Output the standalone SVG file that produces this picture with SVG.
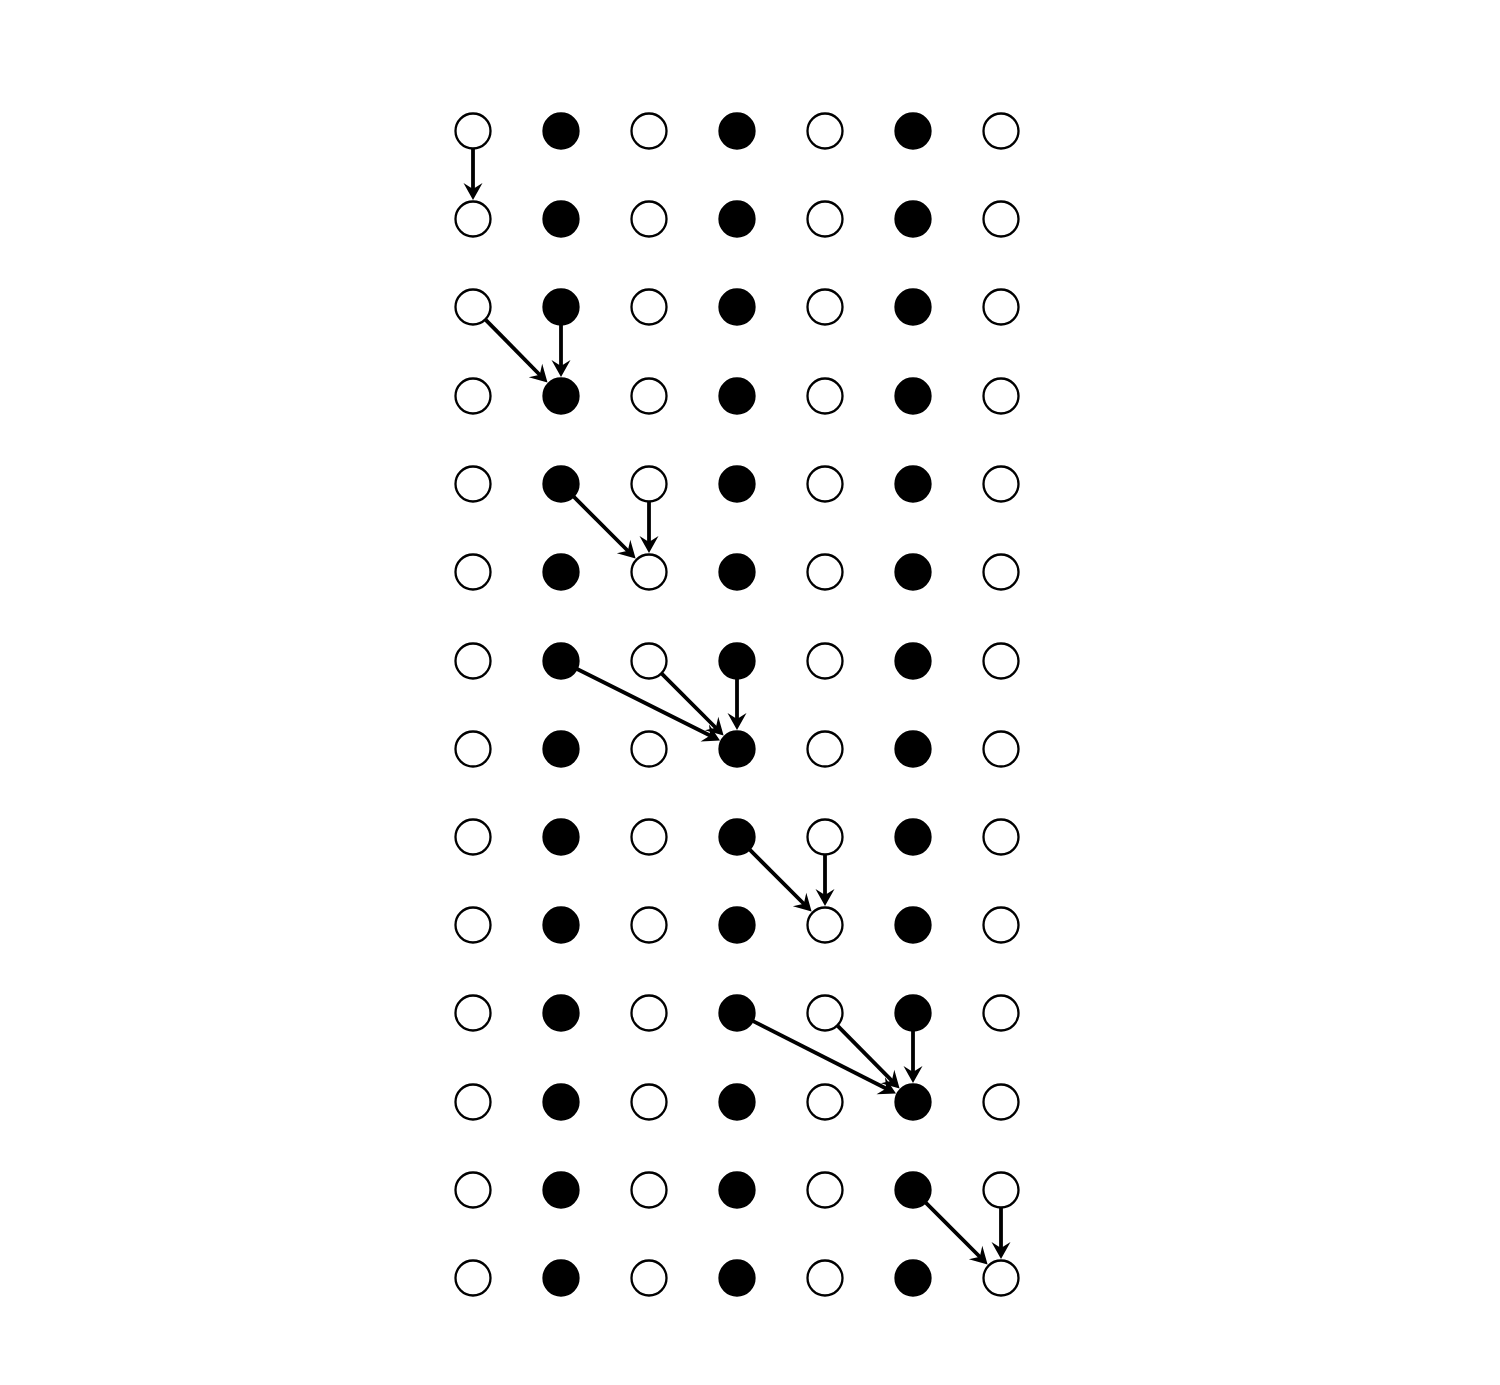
<svg xmlns="http://www.w3.org/2000/svg" width="1500" height="1385" viewBox="0 0 1500 1385">
<defs>
<style>
.o{fill:#fff;stroke:#000;stroke-width:2.3}
.f{fill:#000;stroke:#000;stroke-width:2.3}
#connectors line{stroke:#000;stroke-width:3.8;fill:none}
#connectors polygon{fill:#000;stroke:none}
</style>
</defs>
<rect width="1500" height="1385" fill="#fff"/>
<g id="nodes">
<g id="row0"><circle class="o" cx="473" cy="131" r="17.5"/><circle class="f" cx="561" cy="131" r="17.5"/><circle class="o" cx="649" cy="131" r="17.5"/><circle class="f" cx="737" cy="131" r="17.5"/><circle class="o" cx="825" cy="131" r="17.5"/><circle class="f" cx="913" cy="131" r="17.5"/><circle class="o" cx="1001" cy="131" r="17.5"/></g>
<g id="row1"><circle class="o" cx="473" cy="219" r="17.5"/><circle class="f" cx="561" cy="219" r="17.5"/><circle class="o" cx="649" cy="219" r="17.5"/><circle class="f" cx="737" cy="219" r="17.5"/><circle class="o" cx="825" cy="219" r="17.5"/><circle class="f" cx="913" cy="219" r="17.5"/><circle class="o" cx="1001" cy="219" r="17.5"/></g>
<g id="row2"><circle class="o" cx="473" cy="307" r="17.5"/><circle class="f" cx="561" cy="307" r="17.5"/><circle class="o" cx="649" cy="307" r="17.5"/><circle class="f" cx="737" cy="307" r="17.5"/><circle class="o" cx="825" cy="307" r="17.5"/><circle class="f" cx="913" cy="307" r="17.5"/><circle class="o" cx="1001" cy="307" r="17.5"/></g>
<g id="row3"><circle class="o" cx="473" cy="396" r="17.5"/><circle class="f" cx="561" cy="396" r="17.5"/><circle class="o" cx="649" cy="396" r="17.5"/><circle class="f" cx="737" cy="396" r="17.5"/><circle class="o" cx="825" cy="396" r="17.5"/><circle class="f" cx="913" cy="396" r="17.5"/><circle class="o" cx="1001" cy="396" r="17.5"/></g>
<g id="row4"><circle class="o" cx="473" cy="484" r="17.5"/><circle class="f" cx="561" cy="484" r="17.5"/><circle class="o" cx="649" cy="484" r="17.5"/><circle class="f" cx="737" cy="484" r="17.5"/><circle class="o" cx="825" cy="484" r="17.5"/><circle class="f" cx="913" cy="484" r="17.5"/><circle class="o" cx="1001" cy="484" r="17.5"/></g>
<g id="row5"><circle class="o" cx="473" cy="572" r="17.5"/><circle class="f" cx="561" cy="572" r="17.5"/><circle class="o" cx="649" cy="572" r="17.5"/><circle class="f" cx="737" cy="572" r="17.5"/><circle class="o" cx="825" cy="572" r="17.5"/><circle class="f" cx="913" cy="572" r="17.5"/><circle class="o" cx="1001" cy="572" r="17.5"/></g>
<g id="row6"><circle class="o" cx="473" cy="661" r="17.5"/><circle class="f" cx="561" cy="661" r="17.5"/><circle class="o" cx="649" cy="661" r="17.5"/><circle class="f" cx="737" cy="661" r="17.5"/><circle class="o" cx="825" cy="661" r="17.5"/><circle class="f" cx="913" cy="661" r="17.5"/><circle class="o" cx="1001" cy="661" r="17.5"/></g>
<g id="row7"><circle class="o" cx="473" cy="749" r="17.5"/><circle class="f" cx="561" cy="749" r="17.5"/><circle class="o" cx="649" cy="749" r="17.5"/><circle class="f" cx="737" cy="749" r="17.5"/><circle class="o" cx="825" cy="749" r="17.5"/><circle class="f" cx="913" cy="749" r="17.5"/><circle class="o" cx="1001" cy="749" r="17.5"/></g>
<g id="row8"><circle class="o" cx="473" cy="837" r="17.5"/><circle class="f" cx="561" cy="837" r="17.5"/><circle class="o" cx="649" cy="837" r="17.5"/><circle class="f" cx="737" cy="837" r="17.5"/><circle class="o" cx="825" cy="837" r="17.5"/><circle class="f" cx="913" cy="837" r="17.5"/><circle class="o" cx="1001" cy="837" r="17.5"/></g>
<g id="row9"><circle class="o" cx="473" cy="925" r="17.5"/><circle class="f" cx="561" cy="925" r="17.5"/><circle class="o" cx="649" cy="925" r="17.5"/><circle class="f" cx="737" cy="925" r="17.5"/><circle class="o" cx="825" cy="925" r="17.5"/><circle class="f" cx="913" cy="925" r="17.5"/><circle class="o" cx="1001" cy="925" r="17.5"/></g>
<g id="row10"><circle class="o" cx="473" cy="1013" r="17.5"/><circle class="f" cx="561" cy="1013" r="17.5"/><circle class="o" cx="649" cy="1013" r="17.5"/><circle class="f" cx="737" cy="1013" r="17.5"/><circle class="o" cx="825" cy="1013" r="17.5"/><circle class="f" cx="913" cy="1013" r="17.5"/><circle class="o" cx="1001" cy="1013" r="17.5"/></g>
<g id="row11"><circle class="o" cx="473" cy="1102" r="17.5"/><circle class="f" cx="561" cy="1102" r="17.5"/><circle class="o" cx="649" cy="1102" r="17.5"/><circle class="f" cx="737" cy="1102" r="17.5"/><circle class="o" cx="825" cy="1102" r="17.5"/><circle class="f" cx="913" cy="1102" r="17.5"/><circle class="o" cx="1001" cy="1102" r="17.5"/></g>
<g id="row12"><circle class="o" cx="473" cy="1190" r="17.5"/><circle class="f" cx="561" cy="1190" r="17.5"/><circle class="o" cx="649" cy="1190" r="17.5"/><circle class="f" cx="737" cy="1190" r="17.5"/><circle class="o" cx="825" cy="1190" r="17.5"/><circle class="f" cx="913" cy="1190" r="17.5"/><circle class="o" cx="1001" cy="1190" r="17.5"/></g>
<g id="row13"><circle class="o" cx="473" cy="1278" r="17.5"/><circle class="f" cx="561" cy="1278" r="17.5"/><circle class="o" cx="649" cy="1278" r="17.5"/><circle class="f" cx="737" cy="1278" r="17.5"/><circle class="o" cx="825" cy="1278" r="17.5"/><circle class="f" cx="913" cy="1278" r="17.5"/><circle class="o" cx="1001" cy="1278" r="17.5"/></g>
</g>
<g id="connectors">
<line x1="473" y1="149" x2="473" y2="190"/>
<polygon points="473,200 482.5,183 473,189 463.5,183"/>
<line x1="485.7" y1="319.8" x2="540.43" y2="375.53"/>
<polygon points="547.5,382.6 528.76,377.3 539.72,374.82 542.2,363.86"/>
<line x1="561" y1="325" x2="561" y2="367"/>
<polygon points="561,377 570.5,360 561,366 551.5,360"/>
<line x1="573.7" y1="496.7" x2="628.53" y2="551.53"/>
<polygon points="635.6,558.6 616.86,553.3 627.82,550.82 630.3,539.86"/>
<line x1="649" y1="502" x2="649" y2="543"/>
<polygon points="649,553 658.5,536 649,542 639.5,536"/>
<line x1="577.1" y1="669" x2="711.06" y2="736.03"/>
<polygon points="720,740.5 700.55,741.39 710.17,735.58 709.05,724.41"/>
<line x1="661.7" y1="673.7" x2="716.53" y2="728.53"/>
<polygon points="723.6,735.6 704.86,730.3 715.82,727.82 718.3,716.86"/>
<line x1="737" y1="679" x2="737" y2="720"/>
<polygon points="737,730 746.5,713 737,719 727.5,713"/>
<line x1="749.7" y1="849.7" x2="804.53" y2="904.53"/>
<polygon points="811.6,911.6 792.86,906.3 803.82,903.82 806.3,892.86"/>
<line x1="825" y1="855" x2="825" y2="896"/>
<polygon points="825,906 834.5,889 825,895 815.5,889"/>
<line x1="753.1" y1="1021.1" x2="887.06" y2="1088.93"/>
<polygon points="896,1093.4 876.55,1094.29 886.17,1088.48 885.05,1077.31"/>
<line x1="837.7" y1="1025.8" x2="892.53" y2="1081.43"/>
<polygon points="899.6,1088.5 880.86,1083.2 891.82,1080.72 894.3,1069.76"/>
<line x1="913" y1="1031" x2="913" y2="1073"/>
<polygon points="913,1083 922.5,1066 913,1072 903.5,1066"/>
<line x1="925.7" y1="1202.7" x2="980.53" y2="1257.53"/>
<polygon points="987.6,1264.6 968.86,1259.3 979.82,1256.82 982.3,1245.86"/>
<line x1="1001" y1="1208" x2="1001" y2="1249"/>
<polygon points="1001,1259 1010.5,1242 1001,1248 991.5,1242"/>
</g>
</svg>
